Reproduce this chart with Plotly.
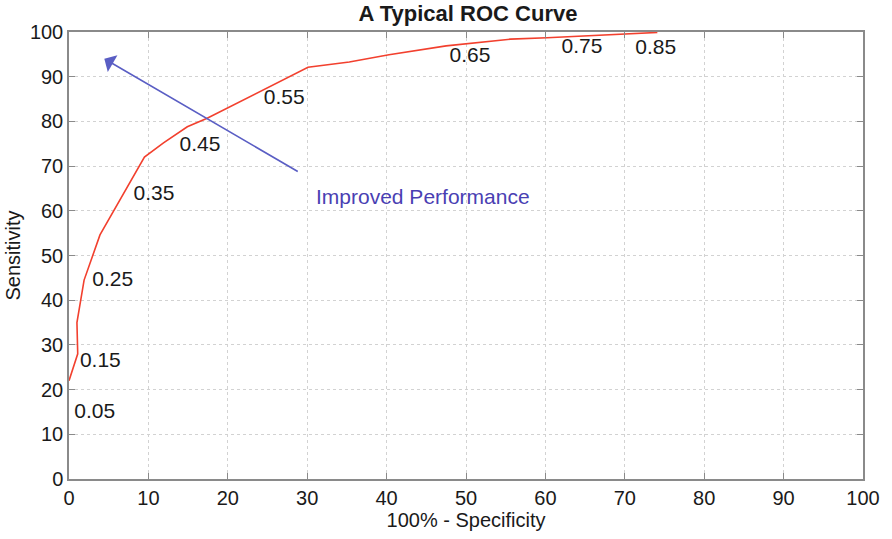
import plotly.graph_objects as go

# ROC curve (100% - specificity vs sensitivity)
fpr = [0, 1.1, 1.0, 1.5, 1.9, 3.9, 6.0, 9.5, 11.9, 14.9, 17.4, 20.3, 24.9, 30.1, 35.3, 40.3, 47.5, 55.6, 60.2, 74.1]
tpr = [22, 28, 35, 40, 44.5, 54.6, 61, 72, 75.2, 78.8, 80.7, 83.3, 87.4, 92.1, 93.3, 94.9, 96.9, 98.4, 98.7, 99.9]

# threshold labels
thr_text = ["0.05", "0.15", "0.25", "0.35", "0.45", "0.55", "0.65", "0.75", "0.85"]
thr_x = [3.25, 3.95, 5.5, 10.7, 16.5, 27.1, 50.5, 64.6, 73.9]
thr_y = [14.8, 26.2, 44.3, 63.7, 74.6, 85.0, 94.5, 96.5, 96.3]

# arrow: tail -> head
arrow_tail = (29.0, 68.6)
arrow_head = (4.45, 94.0)
arrow_label = "Improved Performance"
arrow_label_pos = (30.8, 63.3)

ticks = [0, 10, 20, 30, 40, 50, 60, 70, 80, 90, 100]

FONT = "Liberation Sans, Arial, Helvetica, sans-serif"

fig = go.Figure()
fig.add_trace(go.Scatter(x=fpr, y=tpr, mode="lines",
                         line=dict(color="#f2402e", width=1.6),
                         hoverinfo="skip", showlegend=False))
fig.add_trace(go.Scatter(x=thr_x, y=thr_y, mode="text", text=thr_text,
                         textfont=dict(family=FONT, size=21, color="#1a1a1a"),
                         textposition="middle center", hoverinfo="skip", showlegend=False))

fig.add_annotation(x=arrow_head[0], y=arrow_head[1], ax=arrow_tail[0], ay=arrow_tail[1],
                   xref="x", yref="y", axref="x", ayref="y", text="",
                   showarrow=True, arrowhead=1, arrowsize=2.0, arrowwidth=1.6,
                   arrowcolor="#5a5ec4")
fig.add_annotation(x=arrow_label_pos[0], y=arrow_label_pos[1], xref="x", yref="y",
                   text=arrow_label, showarrow=False, xanchor="left", yanchor="middle",
                   font=dict(family=FONT, size=21, color="#4a3fb3"))

axis_common = dict(
    range=[0, 100], tickvals=ticks, showgrid=True, gridcolor="#d2d2d2",
    griddash="dot", gridwidth=1, showline=True, linecolor="#8a8a8a", linewidth=1.5,
    mirror="ticks", ticks="inside", ticklen=6, tickcolor="#8a8a8a",
    tickfont=dict(family=FONT, size=20, color="#1a1a1a"), zeroline=False,
)
fig.update_xaxes(**axis_common,
                 title=dict(text="100% - Specificity", font=dict(family=FONT, size=20, color="#1a1a1a"), standoff=4))
fig.update_yaxes(**axis_common,
                 title=dict(text="Sensitivity", font=dict(family=FONT, size=20, color="#1a1a1a"), standoff=4))

fig.update_layout(
    width=892, height=539,
    margin=dict(l=67, r=23, t=32, b=60),
    paper_bgcolor="white", plot_bgcolor="white",
    title=dict(text="<b>A Typical ROC Curve</b>", x=(67 + 869) / 2 / 892, xanchor="center",
               y=1 - 13 / 539, yanchor="middle",
               font=dict(family=FONT, size=22, color="#1a1a1a")),
)

fig.write_html("out.html")
